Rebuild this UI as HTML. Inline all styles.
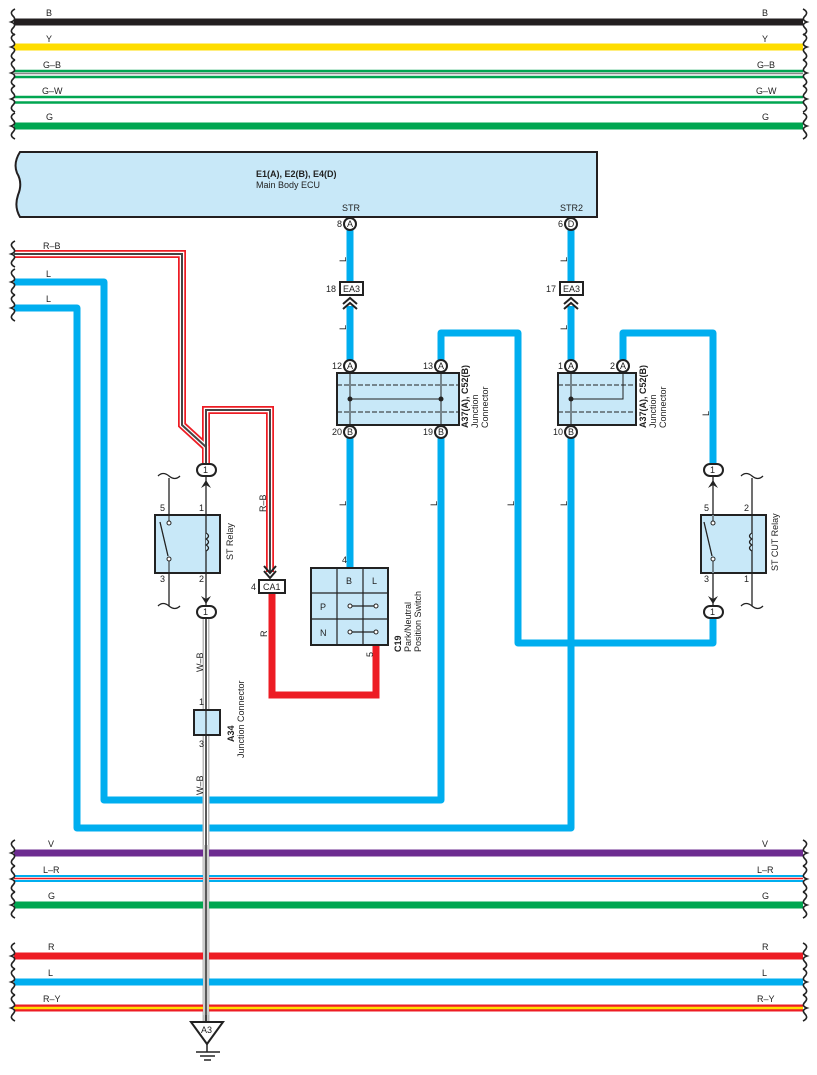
<!DOCTYPE html>
<html><head><meta charset="utf-8"><style>
html,body{margin:0;padding:0;background:#fff;}
svg{display:block;font-family:"Liberation Sans",sans-serif;}
text{font-size:9px;fill:#222;}
</style></head><body>
<svg width="817" height="1075" viewBox="0 0 817 1075" xmlns="http://www.w3.org/2000/svg">
<defs>
<g id="lb"><path d="M15,-13 q-6,3 -2,7 q4,4 -2,6 q6,2 2,6 q-4,4 2,7" fill="none" stroke="#222" stroke-width="1.6"/></g>
<g id="rb"><path d="M803,-13 q6,3 2,7 q-4,4 2,6 q-6,2 -2,6 q4,4 -2,7" fill="none" stroke="#222" stroke-width="1.6"/></g>
</defs>
<!-- top buses -->
<g>
<line x1="14" y1="22" x2="803" y2="22" stroke="#231f20" stroke-width="7"/>
<line x1="14" y1="47" x2="803" y2="47" stroke="#ffdd00" stroke-width="7"/>
<line x1="14" y1="71" x2="803" y2="71" stroke="#00a651" stroke-width="2.5"/>
<line x1="14" y1="73.5" x2="803" y2="73.5" stroke="#888" stroke-width="1.5"/>
<line x1="14" y1="77" x2="803" y2="77" stroke="#00a651" stroke-width="2.5"/>
<line x1="14" y1="97" x2="803" y2="97" stroke="#00a651" stroke-width="2.5"/>
<line x1="14" y1="102.5" x2="803" y2="102.5" stroke="#00a651" stroke-width="2.5"/>
<line x1="14" y1="126" x2="803" y2="126" stroke="#00a651" stroke-width="7"/>
</g>
<use href="#lb" y="22"/><use href="#lb" y="47"/><use href="#lb" y="73"/><use href="#lb" y="99"/><use href="#lb" y="126"/>
<use href="#rb" y="22"/><use href="#rb" y="47"/><use href="#rb" y="73"/><use href="#rb" y="99"/><use href="#rb" y="126"/>
<text x="46" y="16">B</text><text x="46" y="42">Y</text><text x="43" y="68">G–B</text><text x="42" y="94">G–W</text><text x="46" y="120">G</text>
<text x="762" y="16">B</text><text x="762" y="42">Y</text><text x="757" y="68">G–B</text><text x="756" y="94">G–W</text><text x="762" y="120">G</text>

<!-- ECU -->
<path d="M20,152 L597,152 L597,217 L20,217 q-6,-10 -2,-22 q5,-12 -1,-22 q-4,-10 3,-21 z" fill="#c8e8f8" stroke="#231f20" stroke-width="2"/>
<text x="256" y="177" font-weight="bold">E1(A), E2(B), E4(D)</text>
<text x="256" y="188">Main Body ECU</text>
<text x="342" y="211">STR</text><text x="560" y="211">STR2</text>

<!-- Blue wires -->
<g fill="none" stroke="#00aeef" stroke-width="7" stroke-linejoin="round">
<line x1="350" y1="230" x2="350" y2="282"/>
<line x1="350" y1="306" x2="350" y2="360"/>
<line x1="350" y1="438" x2="350" y2="567"/>
<line x1="571" y1="230" x2="571" y2="282"/>
<line x1="571" y1="306" x2="571" y2="360"/>
<path d="M623,360 L623,333 L713,333 L713,463"/>
<path d="M441,360 L441,333 L518,333 L518,643 L713,643 L713,619"/>
<path d="M441,438 L441,800 L104,800 L104,282 L14,282"/>
<path d="M571,438 L571,828 L77,828 L77,308 L14,308"/>
</g>
<use href="#lb" y="282"/><use href="#lb" y="308"/>
<text x="46" y="277">L</text><text x="46" y="302">L</text>

<!-- R-B wire -->
<g fill="none" stroke-linejoin="miter">
<path d="M14,254 L182,254 L182,425 L206,447 L206,463" stroke="#ed1c24" stroke-width="8"/>
<path d="M206,463 L206,410 L270,410 L270,572" stroke="#ed1c24" stroke-width="8"/>
<path d="M14,254 L182,254 L182,425 L206,447 L206,463" stroke="#fff" stroke-width="4.5"/>
<path d="M206,463 L206,410 L270,410 L270,572" stroke="#fff" stroke-width="4.5"/>
<path d="M14,254 L182,254 L182,425 L206,447 L206,463" stroke="#444" stroke-width="2"/>
<path d="M206,463 L206,410 L270,410 L270,572" stroke="#444" stroke-width="2"/>
</g>
<use href="#lb" y="254"/>
<text x="43" y="249">R–B</text>
<text transform="translate(266,512) rotate(-90)">R–B</text>

<!-- R wire -->
<path d="M272,592 L272,695 L376,695 L376,645" fill="none" stroke="#ed1c24" stroke-width="7"/>
<text transform="translate(267,637) rotate(-90)">R</text>

<!-- W-B wire -->
<line x1="206" y1="618" x2="206" y2="1022" stroke="#bbb" stroke-width="7"/>
<line x1="206" y1="618" x2="206" y2="1022" stroke="#fff" stroke-width="4"/>
<line x1="206" y1="618" x2="206" y2="1022" stroke="#222" stroke-width="1.5"/>

<!-- bottom buses -->
<g>
<line x1="14" y1="853" x2="803" y2="853" stroke="#6d2c91" stroke-width="7"/>
<line x1="14" y1="876" x2="803" y2="876" stroke="#00aeef" stroke-width="2"/>
<line x1="14" y1="878.5" x2="803" y2="878.5" stroke="#ed1c24" stroke-width="1.5"/>
<line x1="14" y1="881" x2="803" y2="881" stroke="#00aeef" stroke-width="2"/>
<line x1="14" y1="905" x2="803" y2="905" stroke="#00a651" stroke-width="7"/>
<line x1="14" y1="956" x2="803" y2="956" stroke="#ed1c24" stroke-width="7"/>
<line x1="14" y1="982" x2="803" y2="982" stroke="#00aeef" stroke-width="7"/>
<line x1="14" y1="1008" x2="803" y2="1008" stroke="#ed1c24" stroke-width="7"/>
<line x1="14" y1="1008" x2="803" y2="1008" stroke="#ffdd00" stroke-width="2.5"/>
</g>
<rect x="203" y="845" width="6" height="170" fill="#fff"/>
<line x1="204" y1="845" x2="204" y2="1022" stroke="#bbb" stroke-width="1.5"/>
<line x1="208" y1="845" x2="208" y2="1022" stroke="#bbb" stroke-width="1.5"/>
<line x1="206" y1="845" x2="206" y2="1022" stroke="#222" stroke-width="1.5"/>
<use href="#lb" y="853"/><use href="#lb" y="879"/><use href="#lb" y="905"/><use href="#lb" y="956"/><use href="#lb" y="982"/><use href="#lb" y="1008"/>
<use href="#rb" y="853"/><use href="#rb" y="879"/><use href="#rb" y="905"/><use href="#rb" y="956"/><use href="#rb" y="982"/><use href="#rb" y="1008"/>
<text x="48" y="847">V</text><text x="43" y="873">L–R</text><text x="48" y="899">G</text><text x="48" y="950">R</text><text x="48" y="976">L</text><text x="43" y="1002">R–Y</text>
<text x="762" y="847">V</text><text x="757" y="873">L–R</text><text x="762" y="899">G</text><text x="762" y="950">R</text><text x="762" y="976">L</text><text x="757" y="1002">R–Y</text>

<!-- ground -->
<path d="M191,1022 L223,1022 L207,1044 z" fill="#fff" stroke="#222" stroke-width="2"/>
<text x="201" y="1033" font-size="8">A3</text>
<line x1="207" y1="1044" x2="207" y2="1052" stroke="#222" stroke-width="1.5"/>
<line x1="196" y1="1052" x2="220" y2="1052" stroke="#222" stroke-width="1.5"/>
<line x1="200" y1="1056" x2="215" y2="1056" stroke="#222" stroke-width="1.5"/>
<line x1="204" y1="1060" x2="211" y2="1060" stroke="#222" stroke-width="1.5"/>

<!-- A34 -->
<rect x="194" y="710" width="26" height="25" fill="#c8e8f8" stroke="#222" stroke-width="2"/>
<line x1="206" y1="710" x2="206" y2="735" stroke="#222" stroke-width="1.2"/>
<text x="199" y="705" font-size="8">1</text><text x="199" y="747" font-size="8">3</text>
<text transform="translate(234,742) rotate(-90)" font-weight="bold">A34</text>
<text transform="translate(244,758) rotate(-90)">Junction Connector</text>
<text transform="translate(203,672) rotate(-90)">W–B</text>
<text transform="translate(203,795) rotate(-90)">W–B</text>

<!-- connectors circles -->
<g fill="#fff" stroke="#222" stroke-width="2">
<circle cx="350" cy="224" r="6"/><circle cx="571" cy="224" r="6"/>
<circle cx="350" cy="366" r="6"/><circle cx="441" cy="366" r="6"/>
<circle cx="350" cy="432" r="6"/><circle cx="441" cy="432" r="6"/>
<circle cx="571" cy="366" r="6"/><circle cx="623" cy="366" r="6"/>
<circle cx="571" cy="432" r="6"/>
</g>
<g font-size="8" text-anchor="middle">
<text x="350" y="227">A</text><text x="571" y="227">D</text>
<text x="350" y="369">A</text><text x="441" y="369">A</text>
<text x="350" y="435">B</text><text x="441" y="435">B</text>
<text x="571" y="369">A</text><text x="623" y="369">A</text>
<text x="571" y="435">B</text>
</g>
<g font-size="8" text-anchor="end">
<text x="342" y="227">8</text><text x="563" y="227">6</text>
<text x="342" y="369">12</text><text x="433" y="369">13</text>
<text x="342" y="435">20</text><text x="433" y="435">19</text>
<text x="563" y="369">1</text><text x="615" y="369">2</text>
<text x="563" y="435">10</text>
</g>

<!-- EA3 -->
<rect x="340" y="282" width="23" height="13" fill="#fff" stroke="#222" stroke-width="2"/>
<text x="343" y="292">EA3</text><text x="326" y="292" font-size="8">18</text>
<path d="M343,304 L350,298 L357,304 M343,309 L350,303 L357,309" fill="none" stroke="#222" stroke-width="2"/>
<rect x="560" y="282" width="23" height="13" fill="#fff" stroke="#222" stroke-width="2"/>
<text x="563" y="292">EA3</text><text x="546" y="292" font-size="8">17</text>
<path d="M564,304 L571,298 L578,304 M564,309 L571,303 L578,309" fill="none" stroke="#222" stroke-width="2"/>

<!-- Junction connector 1 -->
<rect x="337" y="373" width="122" height="52" fill="#c8e8f8" stroke="#222" stroke-width="2"/>
<line x1="337" y1="385" x2="459" y2="385" stroke="#222" stroke-dasharray="5,2"/>
<line x1="337" y1="412" x2="459" y2="412" stroke="#222" stroke-dasharray="5,2"/>
<line x1="350" y1="372" x2="350" y2="426" stroke="#222"/><line x1="441" y1="372" x2="441" y2="426" stroke="#222"/>
<line x1="350" y1="399" x2="441" y2="399" stroke="#222"/>
<circle cx="350" cy="399" r="2.5" fill="#222"/><circle cx="441" cy="399" r="2.5" fill="#222"/>
<text transform="translate(468,428) rotate(-90)" font-weight="bold">A37(A), C52(B)</text>
<text transform="translate(478,428) rotate(-90)">Junction</text>
<text transform="translate(488,428) rotate(-90)">Connector</text>

<!-- Junction connector 2 -->
<rect x="558" y="373" width="78" height="52" fill="#c8e8f8" stroke="#222" stroke-width="2"/>
<line x1="558" y1="385" x2="636" y2="385" stroke="#222" stroke-dasharray="5,2"/>
<line x1="558" y1="412" x2="636" y2="412" stroke="#222" stroke-dasharray="5,2"/>
<line x1="571" y1="372" x2="571" y2="426" stroke="#222"/>
<path d="M571,399 L623,399 L623,372" fill="none" stroke="#222"/>
<circle cx="571" cy="399" r="2.5" fill="#222"/>
<text transform="translate(646,428) rotate(-90)" font-weight="bold">A37(A), C52(B)</text>
<text transform="translate(656,428) rotate(-90)">Junction</text>
<text transform="translate(666,428) rotate(-90)">Connector</text>

<!-- ST relay -->
<g stroke="#222" fill="none" stroke-width="1.3">
<line x1="206" y1="476" x2="206" y2="606"/>
<line x1="169" y1="478" x2="169" y2="606"/>
<path d="M158,476 q5,-5 11,0 q6,5 11,0"/><path d="M158,606 q5,-5 11,0 q6,5 11,0"/>
</g>
<rect x="155" y="515" width="65" height="58" fill="#c8e8f8" stroke="#222" stroke-width="2"/>
<line x1="169" y1="515" x2="169" y2="523" stroke="#222"/><line x1="169" y1="559" x2="169" y2="573" stroke="#222"/>
<line x1="206" y1="515" x2="206" y2="573" stroke="#222" stroke-width="1.3"/>
<circle cx="169" cy="523" r="2" fill="#fff" stroke="#222"/><circle cx="169" cy="559" r="2" fill="#fff" stroke="#222"/>
<line x1="160" y1="522" x2="168" y2="556" stroke="#222" stroke-width="1.3"/>
<path d="M206,533 q5,3 0,6 q5,3 0,6 q5,3 0,6" fill="#c8e8f8" stroke="#222" stroke-width="1.3"/>
<text x="160" y="511" font-size="8">5</text><text x="199" y="511" font-size="8">1</text>
<text x="160" y="582" font-size="8">3</text><text x="199" y="582" font-size="8">2</text>
<text transform="translate(233,560) rotate(-90)">ST Relay</text>
<path d="M201,488 L206,480 L211,488 L206,485 z" fill="#222"/>
<path d="M201,596 L206,604 L211,596 L206,599 z" fill="#222"/>
<rect x="197" y="464" width="19" height="12" rx="6" fill="#fff" stroke="#222" stroke-width="2"/>
<text x="203" y="473" font-size="8">1</text>
<rect x="197" y="606" width="19" height="12" rx="6" fill="#fff" stroke="#222" stroke-width="2"/>
<text x="203" y="615" font-size="8">1</text>

<!-- ST CUT relay -->
<g stroke="#222" fill="none" stroke-width="1.3">
<line x1="713" y1="476" x2="713" y2="606"/>
<line x1="752" y1="478" x2="752" y2="606"/>
<path d="M741,476 q5,-5 11,0 q6,5 11,0"/><path d="M741,606 q5,-5 11,0 q6,5 11,0"/>
</g>
<rect x="701" y="515" width="65" height="58" fill="#c8e8f8" stroke="#222" stroke-width="2"/>
<line x1="713" y1="515" x2="713" y2="573" stroke="#c8e8f8" stroke-width="2"/>
<line x1="713" y1="515" x2="713" y2="523" stroke="#222"/><line x1="713" y1="559" x2="713" y2="573" stroke="#222"/>
<line x1="752" y1="515" x2="752" y2="573" stroke="#222" stroke-width="1.3"/>
<circle cx="713" cy="523" r="2" fill="#fff" stroke="#222"/><circle cx="713" cy="559" r="2" fill="#fff" stroke="#222"/>
<line x1="704" y1="522" x2="712" y2="556" stroke="#222" stroke-width="1.3"/>
<path d="M752,533 q-5,3 0,6 q-5,3 0,6 q-5,3 0,6" fill="#c8e8f8" stroke="#222" stroke-width="1.3"/>
<text x="704" y="511" font-size="8">5</text><text x="744" y="511" font-size="8">2</text>
<text x="704" y="582" font-size="8">3</text><text x="744" y="582" font-size="8">1</text>
<text transform="translate(778,571) rotate(-90)">ST CUT Relay</text>
<path d="M708,488 L713,480 L718,488 L713,485 z" fill="#222"/>
<path d="M708,596 L713,604 L718,596 L713,599 z" fill="#222"/>
<rect x="704" y="464" width="19" height="12" rx="6" fill="#fff" stroke="#222" stroke-width="2"/>
<text x="710" y="473" font-size="8">1</text>
<rect x="704" y="606" width="19" height="12" rx="6" fill="#fff" stroke="#222" stroke-width="2"/>
<text x="710" y="615" font-size="8">1</text>

<!-- CA1 -->
<path d="M264,571 L270,578 L276,571 M264,566 L270,573 L276,566" fill="none" stroke="#222" stroke-width="2"/>
<rect x="259" y="580" width="26" height="13" fill="#fff" stroke="#222" stroke-width="2"/>
<text x="263" y="590">CA1</text><text x="251" y="590" font-size="8">4</text>

<!-- P/N switch -->
<rect x="311" y="568" width="77" height="77" fill="#c8e8f8" stroke="#222" stroke-width="2"/>
<g stroke="#222" stroke-width="1.2">
<line x1="337" y1="568" x2="337" y2="645"/><line x1="363" y1="568" x2="363" y2="645"/>
<line x1="311" y1="593" x2="388" y2="593"/><line x1="311" y1="619" x2="388" y2="619"/>
<line x1="350" y1="606" x2="376" y2="606"/><line x1="350" y1="632" x2="376" y2="632"/>
</g>
<g fill="#fff" stroke="#222"><circle cx="350" cy="606" r="2"/><circle cx="376" cy="606" r="2"/><circle cx="350" cy="632" r="2"/><circle cx="376" cy="632" r="2"/></g>
<text x="346" y="584">B</text><text x="372" y="584">L</text><text x="320" y="610">P</text><text x="320" y="636">N</text>
<text x="342" y="563" font-size="8">4</text>
<text transform="translate(373,657) rotate(-90)" font-size="8">5</text>
<text transform="translate(401,652) rotate(-90)" font-weight="bold">C19</text>
<text transform="translate(411,652) rotate(-90)">Park/Neutral</text>
<text transform="translate(421,652) rotate(-90)">Position Switch</text>

<!-- L labels -->
<g>
<text transform="translate(346,262) rotate(-90)">L</text>
<text transform="translate(346,330) rotate(-90)">L</text>
<text transform="translate(346,506) rotate(-90)">L</text>
<text transform="translate(437,506) rotate(-90)">L</text>
<text transform="translate(514,506) rotate(-90)">L</text>
<text transform="translate(567,262) rotate(-90)">L</text>
<text transform="translate(567,330) rotate(-90)">L</text>
<text transform="translate(567,506) rotate(-90)">L</text>
<text transform="translate(709,416) rotate(-90)">L</text>
</g>
</svg>
</body></html>
